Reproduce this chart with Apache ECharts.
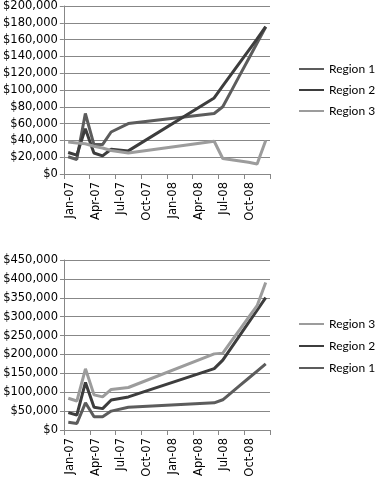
<!DOCTYPE html>
<html><head><meta charset="utf-8">
<script src="https://cdn.jsdelivr.net/npm/echarts@6/dist/echarts.min.js"></script>
<style>html,body{margin:0;padding:0;background:#fff}#c{width:376px;height:480px}</style>
</head><body><div id="c"></div>
<script>
// Month index counted from Jan-07 (0 = Jan-07, 12 = Jan-08)
const months = [0, 1, 2, 3, 4, 5, 7, 17, 18, 19, 20, 21, 22, 23];
const region1 = [20500, 17300, 72000, 35000, 35000, 50000, 60000, 72000, 80000, 99000, 118000, 137000, 156000, 175000];
const region2 = [25600, 22400, 54000, 25000, 21600, 29500, 27500, 90500, 105000, 119000, 133000, 147000, 161000, 175500];
const region3 = [38000, 37000, 36000, 33000, 31000, 28000, 25000, 39000, 18500, 17000, 15500, 14000, 12000, 40000];
const tickLabels = ['Jan-07', 'Apr-07', 'Jul-07', 'Oct-07', 'Jan-08', 'Apr-08', 'Jul-08', 'Oct-08'];
const seriesNames = ['Region 1', 'Region 2', 'Region 3'];
const colors = ['#5c5c5c', '#3d3d3d', '#9c9c9c'];

const pts = arr => arr.map((v, i) => [months[i] + 0.5, v]);
const gridColor = '#878787';
const axisFont = {fontFamily: 'DejaVu Sans', fontSize: 11.5, color: '#000'};
const money = v => '$' + v.toLocaleString('en-US');

function xAxis(gi) {
  return {
    type: 'value', gridIndex: gi, min: 0, max: 24, interval: 3,
    axisLine: {show: true, lineStyle: {color: gridColor}},
    axisTick: {show: true, length: 5, lineStyle: {color: gridColor}},
    splitLine: {show: false},
    axisLabel: Object.assign({
      rotate: 90, verticalAlign: 'top', margin: 8,
      formatter: v => tickLabels[v / 3] || ''
    }, axisFont)
  };
}
function yAxis(gi, max, step) {
  return {
    type: 'value', gridIndex: gi, min: 0, max: max, interval: step,
    axisLine: {show: true, lineStyle: {color: gridColor}},
    axisTick: {show: true, length: 4, lineStyle: {color: gridColor}},
    splitLine: {show: true, lineStyle: {color: gridColor, width: 1}},
    axisLabel: Object.assign({margin: 6, formatter: money}, axisFont)
  };
}
const data = [region1, region2, region3];
// stacked (cumulative) table for the lower chart
const stacked = [];
data.forEach((d, i) => stacked.push(d.map((v, j) => v + (i ? stacked[i - 1][j] : 0))));

const series = [];
data.forEach((d, i) => series.push({
  name: seriesNames[i], type: 'line', xAxisIndex: 0, yAxisIndex: 0,
  data: pts(d), symbol: 'none', lineStyle: {width: 3, color: colors[i]},
  itemStyle: {color: colors[i]}, animation: false
}));
stacked.forEach((d, i) => series.push({
  name: seriesNames[i], type: 'line', xAxisIndex: 1, yAxisIndex: 1,
  data: pts(d), symbol: 'none', lineStyle: {width: 3, color: colors[i]},
  itemStyle: {color: colors[i]}, animation: false
}));
const legendText = {fontFamily: 'Lato', fontSize: 12, color: '#000'};
const hideSym = {color: 'rgba(0,0,0,0)', borderWidth: 0, borderColor: 'rgba(0,0,0,0)'};
const chart = echarts.init(document.getElementById('c'), null, {renderer: 'canvas'});
chart.setOption({
  animation: false,
  backgroundColor: '#fff',
  grid: [
    {left: 63, top: 5, width: 207, height: 169},
    {left: 64, top: 260, width: 206, height: 170}
  ],
  xAxis: [xAxis(0), xAxis(1)],
  yAxis: [yAxis(0, 200000, 20000), yAxis(1, 450000, 50000)],
  legend: [
    {data: ['Region 1', 'Region 2', 'Region 3'], orient: 'vertical', left: 298, top: 63, padding: 0,
     itemWidth: 25, itemHeight: 14, itemGap: 9, textStyle: legendText, selectedMode: false, itemStyle: hideSym},
    {data: ['Region 3', 'Region 2', 'Region 1'], orient: 'vertical', left: 298, top: 318, padding: 0,
     itemWidth: 25, itemHeight: 14, itemGap: 10, textStyle: legendText, selectedMode: false, itemStyle: hideSym}
  ],
  series: series
});
</script></body></html>
